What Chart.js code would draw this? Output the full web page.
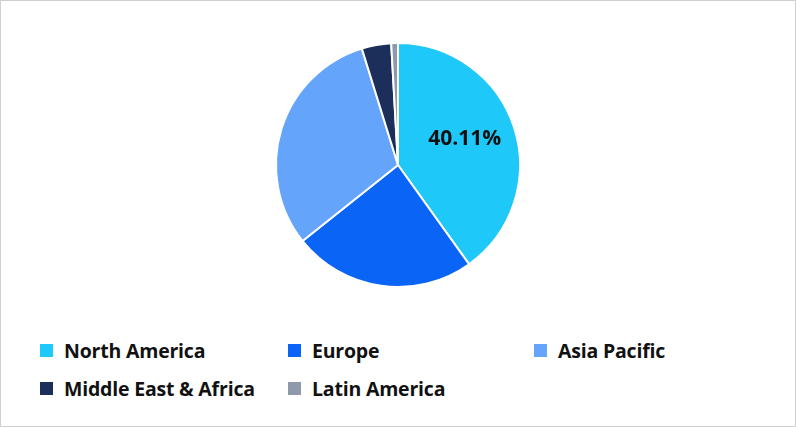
<!DOCTYPE html>
<html><head><meta charset="utf-8">
<script src="https://cdn.jsdelivr.net/npm/chart.js@4"></script>
<style>
body{margin:0;background:#fff;font-family:"Open Sans",sans-serif;}
#frame{position:absolute;left:0;top:0;width:794px;height:425px;border:1px solid #d0d0d0;}
#wrap{position:absolute;left:0;top:0;width:796px;height:330px;}
#legend{position:absolute;left:40px;top:337px;width:740px;}
.item{position:absolute;display:flex;align-items:center;font-weight:bold;font-size:19.5px;color:#111;white-space:nowrap;letter-spacing:-0.2px;}
.sw{width:13px;height:13px;margin-right:11px;}
</style></head>
<body>
<div id="frame"></div>
<div id="wrap"><canvas id="c"></canvas></div>
<div id="legend"></div>
<script>
const regions = ['North America', 'Europe', 'Asia Pacific', 'Middle East & Africa', 'Latin America'];
const shares = [40.11, 24.2, 30.9, 3.9, 0.89];
const colors = ['#1ec8f8', '#0a64f5', '#64a5fb', '#1b2f5a', '#8e9aab'];

const legendPos = [[0, 0], [248, 0], [494, 0], [0, 38], [248, 38]];
const legend = document.getElementById('legend');
regions.forEach((r, i) => {
  const d = document.createElement('div');
  d.className = 'item';
  d.style.left = legendPos[i][0] + 'px';
  d.style.top = legendPos[i][1] + 'px';
  d.innerHTML = `<span class="sw" style="background:${colors[i]}"></span>${r}`;
  legend.appendChild(d);
});

const firstLabel = {
  id: 'firstLabel',
  afterDatasetsDraw(chart) {
    const arc = chart.getDatasetMeta(0).data[0];
    const mid = (arc.startAngle + arc.endAngle) / 2;
    const r = arc.outerRadius * 0.6;
    const ctx = chart.ctx;
    ctx.save();
    ctx.font = 'bold 21px "Open Sans"';
    ctx.fillStyle = '#111';
    ctx.textAlign = 'center';
    ctx.textBaseline = 'middle';
    ctx.fillText(shares[0].toFixed(2) + '%', arc.x + Math.cos(mid) * r - 3, arc.y + Math.sin(mid) * r - 4);
    ctx.restore();
  }
};

new Chart(document.getElementById('c'), {
  type: 'pie',
  data: {
    labels: regions,
    datasets: [{data: shares, backgroundColor: colors, borderColor: '#fff', borderWidth: 2}]
  },
  options: {
    responsive: true,
    maintainAspectRatio: false,
    animation: false,
    layout: {padding: {top: 42, bottom: 42}},
    plugins: {legend: {display: false}, tooltip: {enabled: false}}
  },
  plugins: [firstLabel]
});
</script>
</body></html>
